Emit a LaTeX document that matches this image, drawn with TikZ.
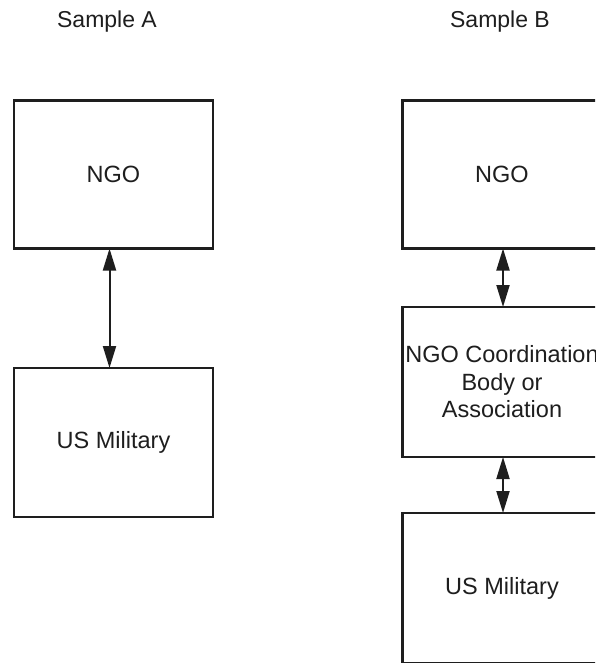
\documentclass[tikz,border=0pt]{standalone}
\usepackage{fontspec}
\setmainfont{Liberation Sans}
\usetikzlibrary{arrows.meta}
\definecolor{ink}{HTML}{1E1E1E}
\tikzset{
  box/.style={draw=ink, line width=2.4pt, minimum width=199pt, inner sep=0pt,
    outer sep=0pt, text=ink, font=\fontsize{23.5}{27.5}\selectfont, align=center},
  head/.style={text=ink, font=\fontsize{23}{27}\selectfont},
  link/.style={draw=ink, line width=2pt,
    {Triangle[width=13pt,length=22pt]}-{Triangle[width=13pt,length=22pt]}}
}
\begin{document}
\begin{tikzpicture}[x=1pt,y=-1pt]
  \useasboundingbox (0,0) rectangle (595,663);
  \clip (0,0) rectangle (595,663);
  \fill[white] (0,0) rectangle (595,663);

  % column headings
  \node[head] (hA) at (107,22) {Sample A};
  \node[head] (hB) at (500,22) {Sample B};

  % Sample A: direct link
  \node[box, minimum height=148pt] (ngoA) at (113.5,174.5) {NGO};
  \node[box, minimum height=149pt] (milA) at (113.5,442.5) {US Military};
  \draw[link] ([xshift=-4pt]ngoA.south) -- ([xshift=-4pt]milA.north);

  % Sample B: link through a coordination body
  \node[box, minimum height=148pt] (ngoB) at (502,174.5) {NGO};
  \node[box, minimum height=150pt] (coordB) at (502,382)
    {NGO Coordination\\Body or\\Association};
  \node[box, minimum height=150pt] (milB) at (502,588) {US Military};
  \draw[link] ([xshift=1pt]ngoB.south) -- ([xshift=1pt]coordB.north);
  \draw[link] ([xshift=1pt]coordB.south) -- ([xshift=1pt]milB.north);
\end{tikzpicture}
\end{document}
